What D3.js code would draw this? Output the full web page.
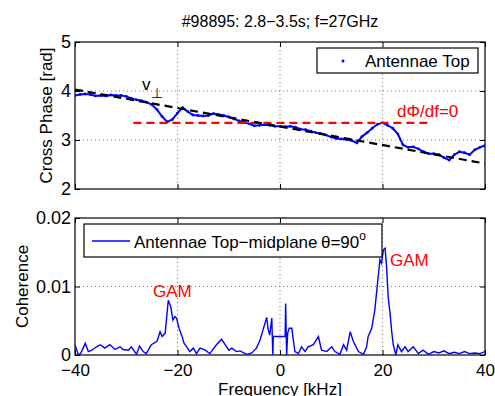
<!DOCTYPE html>
<html>
<head>
<meta charset="utf-8">
<script src="https://cdn.jsdelivr.net/npm/d3@7"></script>
<style>
  body { margin: 0; background: #fff; }
  svg { font-family: "Liberation Sans", Arial, sans-serif; }
</style>
</head>
<body>
<div id="chart"></div>
<script>
// Cross phase (top panel), 1 kHz steps
const phaseFreq = d3.range(-40, 41, 1);
const phaseValue = [
  3.91, 3.93, 3.94, 3.93, 3.90, 3.91, 3.90, 3.92, 3.91, 3.91,
  3.89, 3.85, 3.82, 3.80, 3.77, 3.72, 3.62, 3.48, 3.37, 3.42,
  3.55, 3.66, 3.58, 3.51, 3.50, 3.49, 3.50, 3.54, 3.52, 3.50,
  3.47, 3.43, 3.39, 3.36, 3.33, 3.29, 3.30, 3.31, 3.30, 3.28,
  3.28, 3.27, 3.28, 3.26, 3.22, 3.21, 3.18, 3.15, 3.13, 3.10,
  3.06, 3.03, 3.02, 3.01, 2.99, 2.94, 3.07, 3.15, 3.24, 3.32,
  3.35, 3.30, 3.24, 3.12, 2.90, 2.85, 2.86, 2.82, 2.76, 2.72,
  2.72, 2.70, 2.64, 2.59, 2.70, 2.76, 2.74, 2.70, 2.80, 2.85,
  2.89
];
// linear fit (black dashed) and dPhi/df = 0 level (red dashed)
const fitFreq = [-40, 40];
const fitValue = [4.03, 2.52];
const flatFreq = [-28.6, 29.3];
const flatValue = [3.35, 3.35];

// Coherence (bottom panel)
const cohFreq = [
  -40, -39.4, -38.9, -38.0, -37.4, -36.7, -35.8, -35.1, -34.2, -33.2,
  -32.2, -31.2, -30.6, -29.6, -29.0, -28.0, -27.4, -26.7, -26.1, -25.1,
  -24.0, -23.4, -23.0, -22.4, -21.8, -21.3, -20.9, -20.5, -20.2, -19.7,
  -19.2, -18.7, -18.2, -17.6, -16.9, -16.3, -15.6, -14.6, -13.7, -12.4,
  -11.4, -10.7, -10.0, -9.4, -8.5, -7.8, -6.5, -5.5, -4.6, -3.9,
  -3.3, -2.6, -2.3, -2.0, -1.6, -1.4, -1.3, -1.1, -0.7, 0.3,
  1.0, 1.1, 1.3, 1.5, 1.8, 2.3, 2.6, 2.9, 3.6, 4.2,
  4.9, 5.5, 6.5, 7.5, 8.1, 9.1, 10.1, 10.7, 11.7, 12.4,
  13.0, 13.7, 14.3, 15.3, 16.3, 16.9, 17.2, 17.9, 18.5, 18.9,
  19.5, 19.8, 20.2, 20.5, 20.8, 21.1, 21.5, 21.8, 22.1, 22.6,
  23.0, 23.7, 24.4, 25.0, 26.0, 27.0, 27.9, 29.0, 30.0, 31.0,
  32.0, 33.0, 34.0, 35.0, 36.0, 37.0, 38.0, 39.0, 40.0
];
const cohValue = [
  0.0015, 0.0001, 0.0002, 0.0017, 0.0005, 0.0007, 0.0012, 0.0015, 0.0010, 0.0015,
  0.0008, 0.0012, 0.0008, 0.0007, 0.0012, 0.0001, 0.0013, 0.0005, 0.0002, 0.0015,
  0.0020, 0.0034, 0.0027, 0.0032, 0.0080, 0.0070, 0.0051, 0.0056, 0.0054, 0.0039,
  0.0029, 0.0017, 0.0012, 0.0005, 0.0010, 0.0002, 0.0010, 0.0007, 0.0002, 0.0015,
  0.0023, 0.0015, 0.0007, 0.0010, 0.0005, 0.0006, 0.0001, 0.0003, 0.0010, 0.0022,
  0.0037, 0.0055, 0.0037, 0.0029, 0.0054, 0.0000, 0.0027, 0.0027, 0.0027, 0.0027,
  0.0027, 0.0075, 0.0000, 0.0032, 0.0039, 0.0039, 0.0022, 0.0005, 0.0002, 0.0012,
  0.0005, 0.0012, 0.0015, 0.0027, 0.0007, 0.0005, 0.0012, 0.0005, 0.0001, 0.0015,
  0.0007, 0.0034, 0.0020, 0.0005, 0.0001, 0.0012, 0.0027, 0.0039, 0.0066, 0.0095,
  0.0139, 0.0134, 0.0154, 0.0156, 0.0129, 0.0085, 0.0059, 0.0034, 0.0015, 0.0000,
  0.0015, 0.0005, 0.0012, 0.0005, 0.0012, 0.0002, 0.0007, 0.0001, 0.0005, 0.0003,
  0.0006, 0.0002, 0.0004, 0.0002, 0.0005, 0.0002, 0.0003, 0.0002, 0.0005
];

const xTicks = [-40, -20, 0, 20, 40];
const phaseTicks = [2, 3, 4, 5];
const cohTicks = [0, 0.01, 0.02];

const W = 495, H = 396;
const svg = d3.select('#chart').append('svg')
  .attr('width', W)
  .attr('height', H);

const left = 75, right = 485;
const top1 = 42, bot1 = 189;
const top2 = 218, bot2 = 355;

const x = d3.scaleLinear().domain([-40, 40]).range([left, right]);
const y1 = d3.scaleLinear().domain([2, 5]).range([bot1, top1]);
const y2 = d3.scaleLinear().domain([0, 0.02]).range([bot2, top2]);

// draws grid, box and inward ticks for one panel
function panel(y, yTicks, yFmt, showX) {
  const g = svg.append('g');
  const [yb, yt] = y.range();

  // grid
  g.selectAll('.gx').data(xTicks.slice(1, -1)).enter().append('line')
    .attr('x1', d => x(d)).attr('x2', d => x(d))
    .attr('y1', yt).attr('y2', yb)
    .attr('stroke', '#555').attr('stroke-width', 0.8)
    .attr('stroke-dasharray', '1,3');
  g.selectAll('.gy').data(yTicks.slice(1, -1)).enter().append('line')
    .attr('x1', left).attr('x2', right)
    .attr('y1', d => y(d)).attr('y2', d => y(d))
    .attr('stroke', '#555').attr('stroke-width', 0.8)
    .attr('stroke-dasharray', '1,3');

  // axes with inward ticks
  const ax = g.append('g').attr('transform', `translate(0,${yb})`)
    .call(d3.axisBottom(x).tickValues(xTicks).tickSizeInner(-5).tickSizeOuter(0)
      .tickFormat(showX ? (d => d < 0 ? '\u2212' + (-d) : d) : ''));
  const axTop = g.append('g').attr('transform', `translate(0,${yt})`)
    .call(d3.axisTop(x).tickValues(xTicks).tickSizeInner(-5).tickSizeOuter(0).tickFormat(''));
  const ay = g.append('g').attr('transform', `translate(${left},0)`)
    .call(d3.axisLeft(y).tickValues(yTicks).tickSizeInner(-5).tickSizeOuter(0).tickFormat(yFmt));
  const ayR = g.append('g').attr('transform', `translate(${right},0)`)
    .call(d3.axisRight(y).tickValues(yTicks).tickSizeInner(-5).tickSizeOuter(0).tickFormat(''));

  [ax, axTop, ay, ayR].forEach(a => {
    a.select('.domain').remove();
    a.selectAll('line').attr('stroke', '#000').attr('stroke-width', 1);
    a.selectAll('text').attr('fill', '#000').style('font-size', '18px')
      .style('font-family', '"Liberation Sans", Arial, sans-serif');
  });
  ay.selectAll('text').attr('x', -4).attr('dy', '0.33em');
  ax.selectAll('text').attr('y', 21).attr('dy', 0).style('font-size', '17px');

  g.append('rect')
    .attr('x', left).attr('y', yt)
    .attr('width', right - left).attr('height', yb - yt)
    .attr('fill', 'none').attr('stroke', '#000').attr('stroke-width', 1.2);
}

panel(y1, phaseTicks, d => d, false);
panel(y2, cohTicks, d => d === 0 ? '0' : d.toFixed(2), true);

// Top panel data
svg.append('clipPath').attr('id', 'c1').append('rect')
  .attr('x', left).attr('y', top1).attr('width', right - left).attr('height', bot1 - top1);
const p1 = svg.append('g').attr('clip-path', 'url(#c1)');

p1.append('path')
  .datum(d3.zip(phaseFreq, phaseValue))
  .attr('d', d3.line().x(d => x(d[0])).y(d => y1(d[1])))
  .attr('fill', 'none').attr('stroke', '#0000ff').attr('stroke-width', 2);
p1.selectAll('.pt')
  .data(d3.zip(phaseFreq, phaseValue))
  .enter().append('circle')
  .attr('cx', d => x(d[0])).attr('cy', d => y1(d[1]))
  .attr('r', 1.4).attr('fill', '#0000ff');

p1.append('path')
  .datum(d3.zip(flatFreq, flatValue))
  .attr('d', d3.line().x(d => x(d[0])).y(d => y1(d[1])))
  .attr('fill', 'none').attr('stroke', '#ff0000').attr('stroke-width', 2.2)
  .attr('stroke-dasharray', '8,5');
p1.append('path')
  .datum(d3.zip(fitFreq, fitValue))
  .attr('d', d3.line().x(d => x(d[0])).y(d => y1(d[1])))
  .attr('fill', 'none').attr('stroke', '#000').attr('stroke-width', 2.2)
  .attr('stroke-dasharray', '8,5');

// Bottom panel data
svg.append('clipPath').attr('id', 'c2').append('rect')
  .attr('x', left).attr('y', top2).attr('width', right - left).attr('height', bot2 - top2);
svg.append('g').attr('clip-path', 'url(#c2)')
  .append('path')
  .datum(d3.zip(cohFreq, cohValue))
  .attr('d', d3.line().x(d => x(d[0])).y(d => y2(d[1])))
  .attr('fill', 'none').attr('stroke', '#0000ff').attr('stroke-width', 1.4);

// Title and axis labels
svg.append('text')
  .attr('x', 280).attr('y', 27)
  .attr('text-anchor', 'middle')
  .style('font-size', '16px')
  .text('#98895: 2.8\u22123.5s; f=27GHz');

svg.append('text')
  .attr('transform', `translate(52,${(top1 + bot1) / 2}) rotate(-90)`)
  .attr('text-anchor', 'middle')
  .style('font-size', '17px')
  .text('Cross Phase [rad]');

svg.append('text')
  .attr('transform', `translate(28,${(top2 + bot2) / 2}) rotate(-90)`)
  .attr('text-anchor', 'middle')
  .style('font-size', '17px')
  .text('Coherence');

svg.append('text')
  .attr('x', 280).attr('y', 395)
  .attr('text-anchor', 'middle')
  .style('font-size', '17px')
  .text('Frequency [kHz]');

// Annotations
const vperp = svg.append('text').attr('x', 142).attr('y', 90).style('font-size', '17px');
vperp.append('tspan').text('v');
vperp.append('tspan').attr('dy', 8).style('font-size', '14px').text('\u22a5');

svg.append('text')
  .attr('x', 397).attr('y', 117)
  .attr('fill', '#ff0000')
  .style('font-size', '17px')
  .text('d\u03a6/df=0');

svg.append('text')
  .attr('x', 153).attr('y', 297)
  .attr('fill', '#ff0000')
  .style('font-size', '17px')
  .text('GAM');
svg.append('text')
  .attr('x', 390).attr('y', 266)
  .attr('fill', '#ff0000')
  .style('font-size', '17px')
  .text('GAM');

// Legends
const lg1 = svg.append('g');
lg1.append('rect')
  .attr('x', 317).attr('y', 48).attr('width', 161).attr('height', 25)
  .attr('fill', '#fff').attr('stroke', '#000').attr('stroke-width', 1.2);
lg1.append('circle').attr('cx', 343).attr('cy', 61).attr('r', 1.5).attr('fill', '#0000ff');
lg1.append('text').attr('x', 365).attr('y', 67).style('font-size', '17px').text('Antennae Top');

const lg2 = svg.append('g');
lg2.append('rect')
  .attr('x', 84).attr('y', 224).attr('width', 298).attr('height', 33)
  .attr('fill', '#fff').attr('stroke', '#000').attr('stroke-width', 1.2);
lg2.append('line')
  .attr('x1', 92).attr('x2', 130).attr('y1', 241).attr('y2', 241)
  .attr('stroke', '#0000ff').attr('stroke-width', 1.4);
const lt = lg2.append('text').attr('x', 134).attr('y', 248).style('font-size', '17px');
lt.append('tspan').text('Antennae Top\u2212midplane\u2009\u03b8=90');
lt.append('tspan').attr('dy', -8).style('font-size', '12px').text('o');
</script>
</body>
</html>
